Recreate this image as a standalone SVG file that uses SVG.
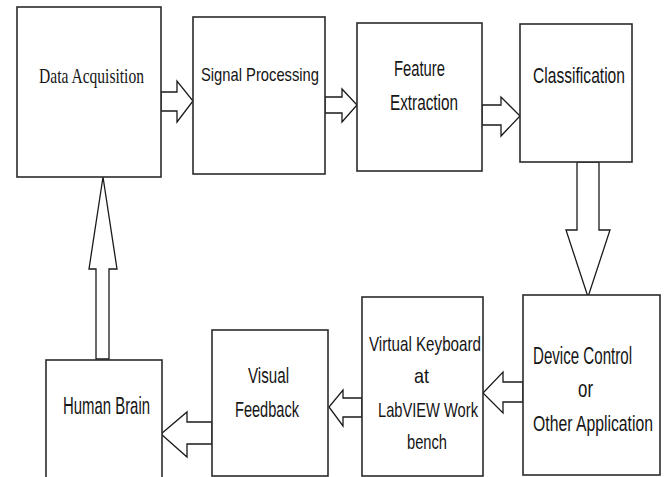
<svg xmlns="http://www.w3.org/2000/svg" width="668" height="477" viewBox="0 0 668 477">
<style>
.box{fill:#fff;stroke:#2b2b2b;stroke-width:1.6}
.arr{fill:#fff;stroke:#1a1a1a;stroke-width:1.3;stroke-linejoin:miter}
.t{font-family:"Liberation Sans",Arial,sans-serif;font-size:15px;fill:#151515}
.s{font-family:"Liberation Serif","Times New Roman",serif;font-size:15.4px;fill:#151515}
</style>
<rect width="668" height="477" fill="#fff"/>
<g id="connectors">
<polygon class="arr" points="161,92 177,92 177,81 193,101 177,122 177,111 161,111"/>
<polygon class="arr" points="325,97 342,97 342,89 357,105 342,122 342,113 325,113"/>
<polygon class="arr" points="482,105 501,105 501,97 520,116 501,136 501,125 482,125"/>
<polygon class="arr" points="577,162 577,230 566,230 588,297 610,230 599,230 599,162"/>
<polygon class="arr" points="523,382 503,382 503,372 483,393 503,413 503,402 523,402"/>
<polygon class="arr" points="362,398 343,398 343,390 329,407 343,426 343,417 362,417"/>
<polygon class="arr" points="212,422 187,422 187,412 161,434 187,457 187,444 212,444"/>
<polygon class="arr" points="96,359 96,269 89,269 103,177 117,269 109,269 109,359"/>
</g>
<g id="data-acquisition">
<rect class="box" x="17" y="7" width="144" height="170"/>
<text class="s" transform="matrix(1,0,0,1.38,39,83)" textLength="105" lengthAdjust="spacingAndGlyphs">Data Acquisition</text>
</g>
<g id="signal-processing">
<rect class="box" x="193" y="17" width="132" height="157"/>
<text class="t" transform="matrix(1,0,0,1.2,201,81)" textLength="118" lengthAdjust="spacingAndGlyphs">Signal Processing</text>
</g>
<g id="feature-extraction">
<rect class="box" x="357" y="23" width="125" height="148"/>
<text class="t" transform="matrix(1,0,0,1.48,394,76)" textLength="51" lengthAdjust="spacingAndGlyphs">Feature</text>
<text class="t" transform="matrix(1,0,0,1.42,390,110)" textLength="68" lengthAdjust="spacingAndGlyphs">Extraction</text>
</g>
<g id="classification">
<rect class="box" x="520" y="24" width="112" height="138"/>
<text class="t" transform="matrix(1,0,0,1.48,533,83)" textLength="92" lengthAdjust="spacingAndGlyphs">Classification</text>
</g>
<g id="device-control">
<rect class="box" x="523" y="295" width="137" height="180"/>
<text class="t" transform="matrix(1,0,0,1.55,533,364)" textLength="99" lengthAdjust="spacingAndGlyphs">Device Control</text>
<text class="t" transform="matrix(1,0,0,1.55,578,397)" textLength="15" lengthAdjust="spacingAndGlyphs">or</text>
<text class="t" transform="matrix(1,0,0,1.52,533,431)" textLength="120" lengthAdjust="spacingAndGlyphs">Other Application</text>
</g>
<g id="virtual-keyboard">
<rect class="box" x="362" y="297" width="121" height="179"/>
<text class="t" transform="matrix(1,0,0,1.32,369,351)" textLength="112" lengthAdjust="spacingAndGlyphs">Virtual Keyboard</text>
<text class="t" transform="matrix(1,0,0,1.32,414,383)" textLength="15" lengthAdjust="spacingAndGlyphs">at</text>
<text class="t" transform="matrix(1,0,0,1.32,378,417)" textLength="100" lengthAdjust="spacingAndGlyphs">LabVIEW Work</text>
<text class="t" transform="matrix(1,0,0,1.32,407,449)" textLength="40" lengthAdjust="spacingAndGlyphs">bench</text>
</g>
<g id="visual-feedback">
<rect class="box" x="212" y="330" width="116" height="146"/>
<text class="t" transform="matrix(1,0,0,1.52,248,383)" textLength="41" lengthAdjust="spacingAndGlyphs">Visual</text>
<text class="t" transform="matrix(1,0,0,1.45,235,417)" textLength="64" lengthAdjust="spacingAndGlyphs">Feedback</text>
</g>
<g id="human-brain">
<rect class="box" x="46" y="360" width="116" height="120"/>
<text class="t" transform="matrix(1,0,0,1.6,63,414)" textLength="87" lengthAdjust="spacingAndGlyphs">Human Brain</text>
</g>
</svg>
